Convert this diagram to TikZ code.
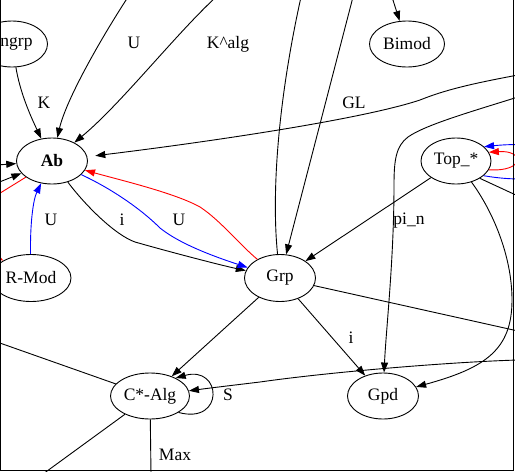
\documentclass[tikz,border=0pt]{standalone}
\usepackage{fontspec}
\setmainfont{Liberation Serif}
\usetikzlibrary{shapes.geometric,arrows.meta}
\begin{document}
\begin{tikzpicture}[x=1pt,y=-1pt,line width=0.9pt,
  nd/.style={draw, ellipse, inner sep=0pt, minimum width=71pt, minimum height=46pt, font=\fontsize{17.5}{21}\selectfont},
  arr/.style={-{Triangle[length=10pt,width=7pt]}},
  lbl/.style={font=\fontsize{17.5}{21}\selectfont, inner sep=0pt, anchor=base}]
\useasboundingbox (0,0) rectangle (515,472);
\clip (0,0) rectangle (515,472);
% nodes
\node[nd] (ngrp) at (12,44) {\hspace*{9pt}ngrp};
\node[nd] (Ab) at (52,161) {\bfseries Ab};
\node[nd, minimum width=75pt] (Bimod) at (407,44) {Bimod};
\node[nd, minimum width=70pt] (Top) at (456,161) {Top\_*};
\node[nd, minimum width=80pt, minimum height=47pt] (RMod) at (31,278) {R-Mod};
\node[nd, minimum height=47pt] (Grp) at (280,278) {Grp};
\node[nd, minimum width=79pt] (CAlg) at (150,396) {C*-Alg};
\node[nd] (Gpd) at (383,396) {Gpd};
% free ends
\coordinate (tU) at (128,-3);
\coordinate (tK) at (216,-3);
\coordinate (tG1) at (301,-3);
\coordinate (tG2) at (353,-3);
\coordinate (tB) at (392,-3);
\coordinate (rGL) at (518,75);
\coordinate (rP) at (518,97);
\coordinate (rT) at (518,196);
\coordinate (rG) at (518,331);
\coordinate (rC) at (518,360);
\coordinate (lA1) at (-3,165);
\coordinate (lA2) at (-3,183);
\coordinate (lA3) at (-3,195);
\coordinate (lR) at (-20,246);
\coordinate (lC) at (-3,342);
\coordinate (bC1) at (43,474);
\coordinate (bC2) at (151,474);
% edges into Ab
\draw[arr] (ngrp) .. controls (20,92) and (30,115) .. (Ab);
\draw[arr] (tU) .. controls (100,40) and (66,100) .. (Ab);
\draw[arr] (tK) .. controls (175,35) and (120,105) .. (Ab);
\draw[arr, shorten >=8pt] (rGL) .. controls (470,84) and (445,90) .. (420,100) .. controls (360,120) and (200,143) .. (Ab);
\draw[arr] (lA1) -- (Ab);
\draw[arr] (lA2) -- (Ab);
\draw[red] (Ab) -- (lA3);
\draw[arr, red] (lR) -- (RMod);
\draw[arr, blue] (RMod) .. controls (30,225) and (33,200) .. (Ab);
% Ab <-> Grp
\draw[arr] (Ab) .. controls (85,205) and (115,235) .. (135,242) .. controls (170,252) and (220,265) .. (Grp);
\draw[arr, blue] (Ab) .. controls (110,188) and (140,208) .. (160,228) .. controls (175,240) and (200,252) .. (Grp);
\draw[arr, red] (Grp) .. controls (240,245) and (220,220) .. (200,207) .. controls (175,193) and (120,180) .. (Ab);
% Grp edges
\draw (Grp) .. controls (272,200) and (276,110) .. (tG1);
\draw[arr] (tG2) -- (Grp);
\draw[arr] (Grp) -- (CAlg);
\draw[arr] (Grp) -- (Gpd);
\draw (Grp) -- (rG);
% Top_* edges
\draw[arr] (Top) -- (Grp);
\draw (Top.-36) -- (rT);
\draw[arr] (Top) .. controls (492,210) and (512,255) .. (512,300) .. controls (512,350) and (485,368) .. (Gpd);
\draw[arr, blue] (Top.-28) .. controls (520,182) and (560,180) .. (560,162) .. controls (560,144) and (520,143) .. (Top.27);
\draw[arr, red] (Top.-15) .. controls (525,172) and (525,150) .. (Top.15);
% others
\draw[arr] (tB) -- (Bimod);
\draw[arr] (rP) .. controls (470,112) and (425,125) .. (408,137) .. controls (396,146) and (394,160) .. (394,185) .. controls (394,260) and (386,330) .. (Gpd);
\draw[arr] (rC) .. controls (450,362) and (330,372) .. (260,382) .. controls (235,385) and (210,388) .. (CAlg);
\draw (CAlg) -- (lC);
\draw (CAlg) -- (bC1);
\draw (CAlg) -- (bC2);
\draw[arr] (CAlg.-30) .. controls (225,425) and (222,365) .. (CAlg.35);
% labels
\node[lbl] (lK) at (44,108) {K};
\node[lbl] (lU1) at (134,48) {U};
\node[lbl] (lKa) at (228,48) {K\textasciicircum alg};
\node[lbl] (lGL) at (354,108) {GL};
\node[lbl] (lpi) at (409,224) {pi\_n};
\node[lbl] (lU2) at (51,225) {U};
\node[lbl] (li1) at (122,225) {i};
\node[lbl] (lU3) at (179,225) {U};
\node[lbl] (li2) at (351,343) {i};
\node[lbl] (lS) at (228,400) {S};
\node[lbl] (lMax) at (175,460) {Max};
% frame
\draw (0.5,-5) -- (0.5,470.5) -- (513.5,470.5) -- (513.5,-5);
\end{tikzpicture}
\end{document}
